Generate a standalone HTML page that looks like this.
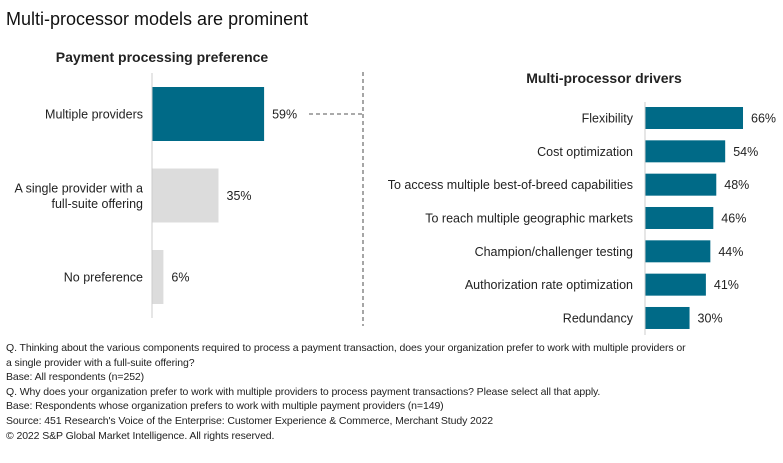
<!DOCTYPE html>
<html><head><meta charset="utf-8"><style>
body{margin:0;background:#fff;width:783px;height:463px;overflow:hidden;font-family:"Liberation Sans",sans-serif;color:#222}
svg text{font-family:"Liberation Sans",sans-serif}
.notes{position:absolute;left:6px;top:341px;font-size:10.5px;letter-spacing:-0.1px;line-height:14.6px;color:#222;white-space:nowrap}
</style></head><body>
<svg width="783" height="463" style="position:absolute;left:0;top:0">
<text x="6" y="25" font-size="18" fill="#111">Multi-processor models are prominent</text>
<text x="162" y="62" font-size="14" font-weight="bold" text-anchor="middle" fill="#222">Payment processing preference</text>
<text x="604" y="83" font-size="14" font-weight="bold" text-anchor="middle" fill="#222">Multi-processor drivers</text>
<line x1="363" y1="72" x2="363" y2="326" stroke="#777" stroke-width="1.3" stroke-dasharray="4,3"/>
<line x1="309" y1="114" x2="363" y2="114" stroke="#777" stroke-width="1.3" stroke-dasharray="4,3"/>
<g id="left"></g><g id="right"></g>
</svg>
<div class="notes">Q. Thinking about the various components required to process a payment transaction, does your organization prefer to work with multiple providers or<br>a single provider with a full-suite offering?<br>Base: All respondents (n=252)<br>Q. Why does your organization prefer to work with multiple providers to process payment transactions? Please select all that apply.<br>Base: Respondents whose organization prefers to work with multiple payment providers (n=149)<br>Source: 451 Research's Voice of the Enterprise: Customer Experience &amp; Commerce, Merchant Study 2022<br>© 2022 S&amp;P Global Market Intelligence. All rights reserved.</div>
<script>
const leftCats=[["Multiple providers"],["A single provider with a","full-suite offering"],["No preference"]];
const leftVals=[59,35,6];
const rightCats=["Flexibility","Cost optimization","To access multiple best-of-breed capabilities","To reach multiple geographic markets","Champion/challenger testing","Authorization rate optimization","Redundancy"];
const rightVals=[66,54,48,46,44,41,30];
const NS="http://www.w3.org/2000/svg";
function mk(p,t,a){const e=document.createElementNS(NS,t);for(const k in a)e.setAttribute(k,a[k]);p.appendChild(e);return e;}
// left
const L=document.getElementById('left');
const lx=v=>152+v*1.9, ly=i=>87+i*81.5, lh=54;
let ax=mk(L,'line',{x1:152,y1:73,x2:152,y2:318,stroke:'#ccc'});


leftVals.forEach((v,i)=>{
 const r=mk(L,'rect',{x:152.5,y:ly(i),width:lx(v)-152.5,height:lh,fill:i==0?'#006a87':'#dcdcdc'});
 
 
 const cy=ly(i)+lh/2;
 const t=mk(L,'text',{x:lx(v)+8,y:cy+4.5,'font-size':12.5,fill:'#222'});t.textContent=v+'%';
 
 
 const lines=leftCats[i];
 lines.forEach((s,j)=>{const c=mk(L,'text',{x:143,y:cy+4.5+(j-(lines.length-1)/2)*15.5,'font-size':12.5,'text-anchor':'end',fill:'#222'});c.textContent=s;
 
 });
});
// right
const R=document.getElementById('right');
const rx=v=>645+v*1.485, ry=i=>107+i*33.33, rh=22;
let ax2=mk(R,'line',{x1:645,y1:102,x2:645,y2:335,stroke:'#ccc'});


rightVals.forEach((v,i)=>{
 const r=mk(R,'rect',{x:645.5,y:ry(i),width:rx(v)-645.5,height:rh,fill:'#006a87'});
 
 
 const cy=ry(i)+rh/2;
 const t=mk(R,'text',{x:rx(v)+8,y:cy+4.5,'font-size':12.5,fill:'#222'});t.textContent=v+'%';
 
 
 const c=mk(R,'text',{x:633,y:cy+4.5,'font-size':12.5,'text-anchor':'end',fill:'#222'});c.textContent=rightCats[i];
 
 
});
</script>
</body></html>
